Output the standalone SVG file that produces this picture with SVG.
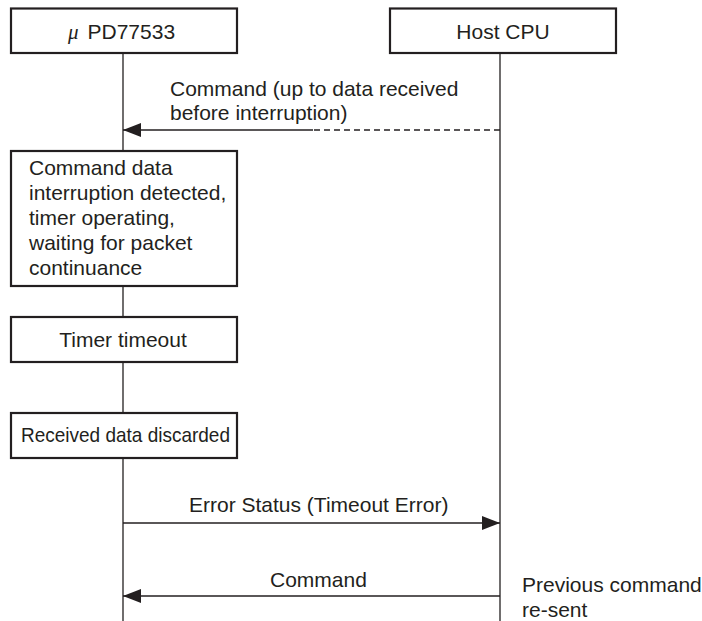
<svg xmlns="http://www.w3.org/2000/svg" width="702" height="621" viewBox="0 0 702 621">
<style>
text { font-family: "Liberation Sans", Arial, sans-serif; font-size: 21px; fill: #231f20; }
.box { fill: #fff; stroke: #231f20; stroke-width: 2.2; }
.life { stroke: #231f20; stroke-width: 1.3; fill: none; }
.msg { stroke: #231f20; stroke-width: 1.3; fill: none; }
.dash { stroke-dasharray: 6 4; }
</style>
<defs>
<marker id="ah" markerUnits="userSpaceOnUse" markerWidth="18" markerHeight="14" refX="18" refY="7" orient="auto">
<path d="M0,0 L18,7 L0,14 z" fill="#231f20"/>
</marker>
</defs>
<rect width="702" height="621" fill="#fff"/>
<g id="lifelines">
<line class="life" x1="123" y1="53" x2="123" y2="621"/>
<line class="life" x1="500" y1="53" x2="500" y2="621"/>
</g>
<g id="connectors">
<line class="msg dash" x1="500" y1="130" x2="313" y2="130"/>
<line class="msg" x1="313" y1="130" x2="123" y2="130" marker-end="url(#ah)"/>
<text x="170" y="96">Command (up to data received</text>
<text x="170" y="120">before interruption)</text>
<line class="msg" x1="123" y1="523" x2="500" y2="523" marker-end="url(#ah)"/>
<text x="189" y="511.5">Error Status (Timeout Error)</text>
<line class="msg" x1="500" y1="596" x2="123" y2="596" marker-end="url(#ah)"/>
<text x="270" y="586.5">Command</text>
</g>
<g id="upd77533">
<rect class="box" x="11" y="8.5" width="226" height="44.5"/>
<text x="68" y="39"><tspan font-family="'Liberation Serif', serif" font-style="italic">μ</tspan><tspan x="87.5">PD77533</tspan></text>
</g>
<g id="hostcpu">
<rect class="box" x="390" y="8.5" width="226" height="44.5"/>
<text x="503" y="39" text-anchor="middle">Host CPU</text>
</g>
<g id="interruption">
<rect class="box" x="11" y="151" width="226" height="135"/>
<text x="29" y="175">Command data</text>
<text x="29" y="200">interruption detected,</text>
<text x="29" y="225">timer operating,</text>
<text x="29" y="250">waiting for packet</text>
<text x="29" y="275">continuance</text>
</g>
<g id="timeout">
<rect class="box" x="11" y="317" width="226" height="45"/>
<text x="123" y="347" text-anchor="middle">Timer timeout</text>
</g>
<g id="discarded">
<rect class="box" x="11" y="413" width="226" height="45"/>
<text x="21" y="441.5" font-size="19.5" textLength="209" lengthAdjust="spacingAndGlyphs">Received data discarded</text>
</g>
<g id="note">
<text x="522" y="591.5">Previous command</text>
<text x="522" y="616.5">re-sent</text>
</g>
</svg>
